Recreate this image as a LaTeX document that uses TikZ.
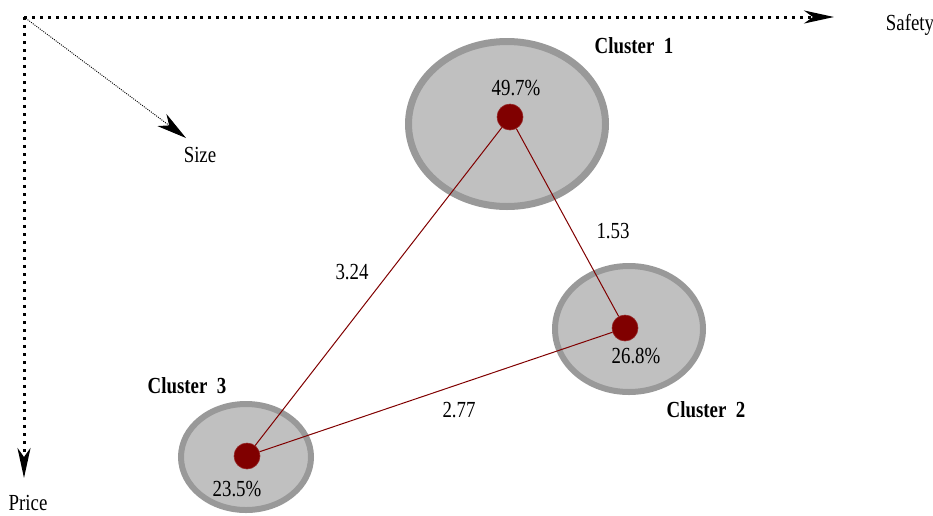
\documentclass[tikz,border=0pt]{standalone}
\usepackage{fontspec}
\setmainfont{Liberation Serif}[FakeStretch=0.82]
\usetikzlibrary{arrows.meta,shapes.geometric}
\definecolor{dotred}{HTML}{800000}
\definecolor{cfill}{HTML}{C0C0C0}
\definecolor{cline}{HTML}{999999}
\tikzset{
  axis/.style={line width=3pt, dash pattern=on 3pt off 5pt, -{Stealth[length=30pt,width=13pt,inset=9pt]}},
  sizeaxis/.style={line width=0.9pt, dash pattern=on 1pt off 1.2pt, -{Stealth[length=30pt,width=15pt,inset=9pt]}},
  cluster/.style={ellipse, draw=cline, fill=cfill, inner sep=0pt},
  cdot/.style={circle, fill=dotred, draw=dotred!85!white, line width=0.6pt, inner sep=0pt, minimum size=26pt},
  edge/.style={draw=dotred, line width=1pt},
  lbl/.style={font=\fontsize{23}{27}\selectfont, inner sep=0pt},
  clbl/.style={font=\fontsize{23}{27}\selectfont\bfseries, inner sep=0pt},
}
\begin{document}
\begin{tikzpicture}[x=1pt,y=-1pt]
\useasboundingbox (0,0) rectangle (933,515);
% axes
\coordinate (o) at (24,17);
\coordinate (sx) at (834,17);
\coordinate (px) at (24,478);
\coordinate (zx) at (186,138);
\draw[axis] (o) -- (sx);
\draw[axis] (o) -- (px);
\draw[sizeaxis] (o) -- (zx);
\node[lbl] (safety) at (910,25) {Safety};
\node[lbl] (size) at (200,155) {Size};
\node[lbl] (price) at (28,503) {Price};
% clusters
\node[cluster, line width=7pt, minimum width=197pt, minimum height=165pt] (c1) at (507,124) {};
\node[cluster, line width=6pt, minimum width=148pt, minimum height=126pt] (c2) at (629,329) {};
\node[cluster, line width=6pt, minimum width=130pt, minimum height=106pt] (c3) at (246,457) {};
% dots
\node[cdot] (d1) at (510,117) {};
\node[cdot] (d2) at (625,328) {};
\node[cdot] (d3) at (247,456) {};
% edges
\draw[edge] (d1) -- (d2);
\draw[edge] (d1) -- (d3);
\draw[edge] (d2) -- (d3);
% labels
\node[lbl] (p1) at (516,88) {49.7\%};
\node[lbl] (p2) at (636,356) {26.8\%};
\node[lbl] (p3) at (237,489) {23.5\%};
\node[clbl] (n1) at (634,46) {Cluster\ \ 1};
\node[clbl] (n2) at (706,410) {Cluster\ \ 2};
\node[clbl] (n3) at (187,386) {Cluster\ \ 3};
\node[lbl] (e12) at (613,231) {1.53};
\node[lbl] (e13) at (352,272) {3.24};
\node[lbl] (e23) at (459,410) {2.77};
\end{tikzpicture}
\end{document}
